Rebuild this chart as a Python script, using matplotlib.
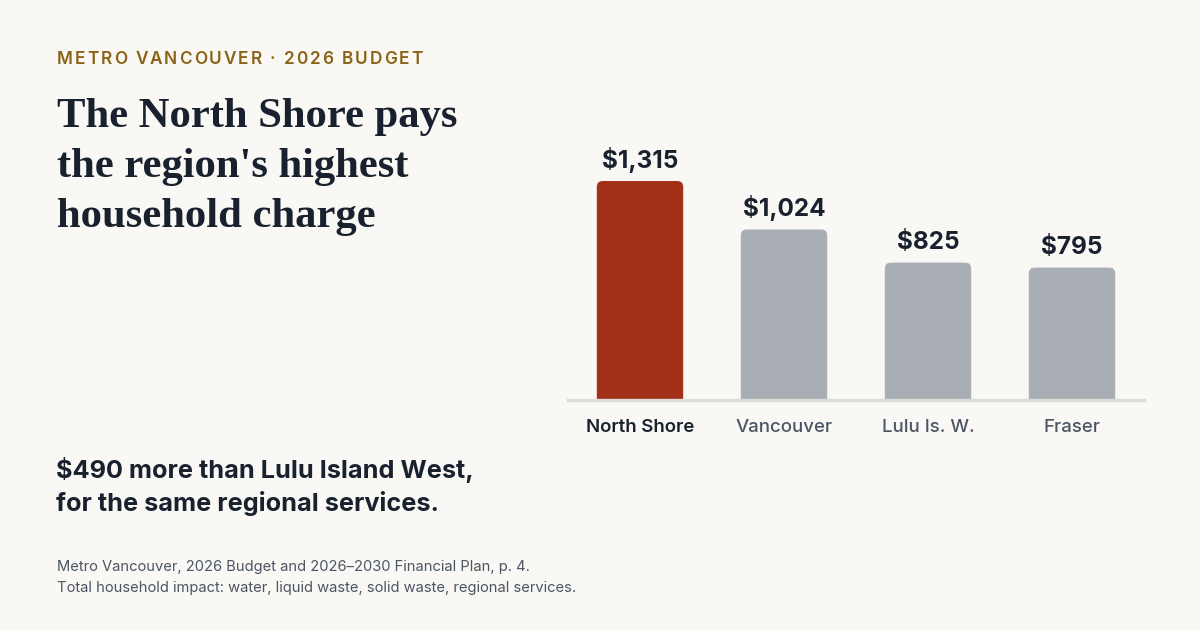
import matplotlib
matplotlib.use("Agg")
import matplotlib.pyplot as plt
from matplotlib.patches import FancyBboxPatch

# ---- data ----
categories = ["North Shore", "Vancouver", "Lulu Is. W.", "Fraser"]
values = [1315, 1024, 825, 795]
value_labels = ["$1,315", "$1,024", "$825", "$795"]
highlight = [True, False, False, False]

kicker = "METRO VANCOUVER · 2026 BUDGET"
title_lines = ["The North Shore pays", "the region's highest", "household charge"]
subtitle_lines = ["$490 more than Lulu Island West,", "for the same regional services."]
footer_lines = ["Metro Vancouver, 2026 Budget and 2026\u20132030 Financial Plan, p. 4.",
                "Total household impact: water, liquid waste, solid waste, regional services."]

# ---- style ----
BG = "#f9f8f5"
RED = "#a3311a"
GRAY = "#a9aeb4"
DARK = "#18212d"
MUTED = "#4b5563"
GOLD = "#8a6316"
AXIS = "#dddcd8"

W, H = 1200, 630
fig = plt.figure(figsize=(12, 6.3), dpi=100, facecolor=BG)

def fx(px):
    return px / W

def fy(py):
    return 1 - py / H

# kicker with letter spacing
renderer = fig.canvas.get_renderer()
KS = 12.4
x = 57
tracking = 1.95
t2 = fig.text(0, 0, "a a", fontsize=KS, family="Inter", fontweight="semibold")
w3 = t2.get_window_extent(renderer=renderer).width
t2.remove()
t3 = fig.text(0, 0, "aa", fontsize=KS, family="Inter", fontweight="semibold")
w2 = t3.get_window_extent(renderer=renderer).width
t3.remove()
space_adv = w3 - w2
for ch in kicker:
    t = fig.text(fx(x), fy(64), ch, fontsize=KS, fontweight="semibold",
                 family="Inter", color=GOLD, va="baseline", ha="left")
    adv = space_adv if ch == " " else t.get_window_extent(renderer=renderer).width
    x += adv + tracking

# title
for i, line in enumerate(title_lines):
    fig.text(fx(57), fy(127 + i * 50), line, fontsize=30.7, fontweight="bold",
             family="Liberation Serif", color=DARK, va="baseline", ha="left")

# subtitle
for i, line in enumerate(subtitle_lines):
    fig.text(fx(56), fy(478 + i * 33), line, fontsize=18.2, fontweight="bold",
             family="Inter", color=DARK, va="baseline", ha="left")

# footer
for i, line in enumerate(footer_lines):
    fig.text(fx(57), fy(571 + i * 21), line, fontsize=10.6,
             family="Inter", color=MUTED, va="baseline", ha="left")

# ---- chart ----
ax_left, ax_right = 568, 1144
ax_top, ax_bottom = 140, 400
ax = fig.add_axes([fx(ax_left), fy(ax_bottom), fx(ax_right - ax_left), (ax_bottom - ax_top) / H])
ax.set_facecolor("none")
ymax = 1315 * (ax_bottom - ax_top) / 219.0
ax.set_xlim(-0.5, len(categories) - 0.5)
ax.set_ylim(0, ymax)
for s in ax.spines.values():
    s.set_visible(False)
ax.set_yticks([])

bar_w = 0.6
px_x = (ax_right - ax_left) / len(categories)   # px per x unit
px_y = (ax_bottom - ax_top) / ymax             # px per y unit
radius_px = 6
aspect = px_x / px_y
for i, (v, hl) in enumerate(zip(values, highlight)):
    patch = FancyBboxPatch((i - bar_w / 2, -100), bar_w, v + 100,
                           boxstyle=f"round,pad=0,rounding_size={radius_px / px_x}",
                           mutation_aspect=aspect,
                           facecolor=RED if hl else GRAY, edgecolor="none", zorder=2)
    ax.add_patch(patch)
    ax.annotate(value_labels[i], (i, v), xytext=(0, 6), textcoords="offset points",
                ha="center", va="bottom", fontsize=17.5, fontweight="bold",
                family="Inter", color=DARK, zorder=3)

ax.axhline(0, color=AXIS, lw=2.4, zorder=3, clip_on=False)

ax.set_xticks(range(len(categories)))
ax.set_xticklabels(categories)
ax.tick_params(axis="x", length=0, pad=14)
for lbl, hl in zip(ax.get_xticklabels(), highlight):
    lbl.set_family("Inter")
    lbl.set_fontsize(13.4)
    lbl.set_fontweight("semibold" if hl else "medium")
    lbl.set_color(DARK if hl else MUTED)

fig.savefig("out.png", dpi=100, facecolor=BG)
